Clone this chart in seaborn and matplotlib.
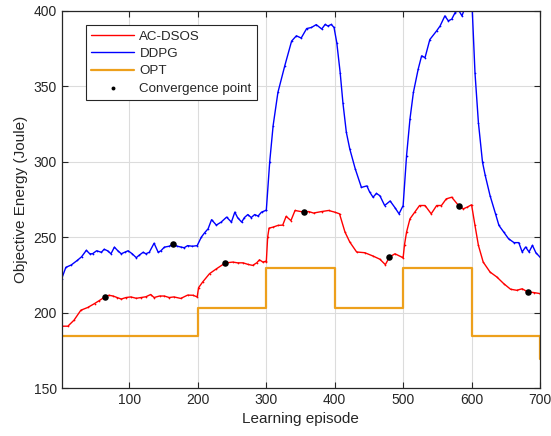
import numpy as np
import pandas as pd
import matplotlib
matplotlib.use("Agg")
import matplotlib.pyplot as plt
import seaborn as sns

# --- DATA ---
red_ep = [1, 10, 19, 29, 39, 49, 56, 64, 70, 76, 82, 88, 95, 102, 110, 117, 124, 131, 136,
          144, 151, 158, 165, 175, 185, 193, 199, 201, 207, 217, 227, 240, 251, 258, 266,
          273, 280, 286, 290, 295, 299, 300, 302, 304, 310, 317, 324, 329, 336, 342, 355,
          362, 369, 381, 391, 400, 407, 415, 422, 432, 444, 456, 466, 474, 480, 488, 498,
          500, 502, 505, 510, 517, 524, 532, 541, 549, 556, 563, 571, 581, 588, 594, 600,
          605, 610, 617, 627, 637, 647, 657, 666, 674, 682, 691, 700]
red_val = [191.0, 191.0, 195.0, 201.6, 203.4, 206.0, 208.0, 210.4, 211.5, 211.0, 210.0,
           209.0, 210.0, 210.4, 209.5, 210.0, 210.5, 212.0, 210.0, 211.0, 211.0, 210.0,
           210.4, 209.4, 211.6, 211.5, 210.4, 216.5, 220.3, 225.8, 229.0, 232.9, 233.5,
           233.0, 233.0, 232.0, 231.3, 233.0, 235.0, 233.5, 234.0, 233.5, 250.0, 256.0,
           256.7, 257.8, 258.0, 263.8, 261.0, 267.7, 266.6, 267.0, 266.0, 267.0, 267.7,
           266.6, 265.5, 253.4, 246.8, 240.2, 239.7, 237.5, 235.4, 231.8, 236.8, 239.0,
           236.8, 236.5, 245.0, 253.4, 262.2, 266.6, 271.0, 271.0, 265.5, 271.0, 271.0,
           275.4, 276.5, 271.0, 268.8, 270.0, 271.5, 257.8, 244.6, 233.5, 226.9, 223.6,
           219.2, 215.5, 214.8, 215.8, 213.7, 213.3, 212.6]

blue_ep = [1, 7, 15, 24, 30, 37, 42, 46, 52, 59, 63, 68, 73, 78, 83, 88, 93, 98, 104, 110,
           114, 120, 124, 129, 136, 142, 146, 151, 158, 164, 170, 176, 180, 185, 192, 199,
           205, 210, 215, 220, 227, 234, 242, 249, 254, 258, 264, 268, 273, 278, 283, 288,
           293, 299, 300, 305, 310, 317, 327, 337, 344, 351, 359, 366, 373, 381, 386, 390,
           395, 399, 403, 408, 412, 417, 422, 430, 439, 447, 451, 456, 461, 466, 473, 481,
           488, 494, 500, 505, 510, 515, 522, 527, 532, 539, 549, 554, 561, 566, 571, 576,
           581, 586, 591, 596, 600, 601, 605, 610, 616, 620, 627, 635, 640, 647, 654, 662,
           669, 674, 679, 684, 689, 694, 700]
blue_val = [222.5, 230.0, 231.6, 234.7, 237.0, 241.3, 239.0, 239.0, 241.0, 240.0, 242.0,
            241.0, 239.0, 243.4, 241.0, 239.0, 240.0, 241.0, 239.0, 236.4, 238.0, 240.0,
            239.0, 240.0, 246.0, 240.0, 241.0, 243.4, 244.0, 245.2, 244.0, 243.4, 243.0,
            244.4, 244.0, 244.4, 250.0, 253.0, 255.6, 261.6, 258.0, 260.0, 263.3, 260.0,
            266.6, 263.0, 260.0, 263.0, 265.0, 263.0, 265.0, 264.0, 266.6, 267.7, 267.7,
            300.0, 324.0, 346.0, 363.6, 380.0, 383.5, 382.0, 388.3, 389.0, 390.9, 388.0,
            391.0, 390.0, 391.0, 389.0, 379.0, 359.0, 339.0, 319.5, 308.5, 295.3, 283.0,
            284.0, 280.0, 276.5, 279.0, 277.5, 271.0, 274.0, 269.6, 265.5, 271.0, 304.0,
            328.4, 346.0, 361.4, 370.2, 369.0, 381.0, 386.8, 390.0, 396.7, 393.4, 394.5,
            398.9, 400.5, 396.7, 403.0, 405.0, 404.0, 401.0, 359.0, 326.0, 299.7, 290.9,
            277.6, 265.5, 257.8, 253.4, 249.0, 246.4, 246.4, 240.2, 243.5, 240.2, 244.6,
            239.7, 236.8]

opt_ep = [1, 200, 300, 400, 500, 600, 700]
opt_val = [184.4, 203.1, 229.8, 203.1, 229.8, 184.4, 169.0]

conv_ep = [64, 164, 240, 355, 480, 581, 682]
conv_val = [210.4, 245.2, 232.9, 266.6, 236.8, 271.0, 213.7]

# --- STYLE ---
sns.set_style("ticks")
plt.rcParams["font.family"] = ["Liberation Sans", "DejaVu Sans"]
plt.rcParams["axes.edgecolor"] = "#262626"
plt.rcParams["xtick.color"] = "#262626"
plt.rcParams["ytick.color"] = "#262626"

fig = plt.figure(figsize=(5.51, 4.36), dpi=100)
ax = fig.add_axes([0.112, 0.110, 0.868, 0.865])

df_red = pd.DataFrame({"ep": red_ep, "val": red_val})
df_blue = pd.DataFrame({"ep": blue_ep, "val": blue_val})
df_opt = pd.DataFrame({"ep": opt_ep, "val": opt_val})
df_conv = pd.DataFrame({"ep": conv_ep, "val": conv_val})

sns.lineplot(data=df_red, x="ep", y="val", ax=ax, color="#FF0000", lw=1.0,
             marker=".", markersize=2.5, markeredgewidth=0, estimator=None,
             label="AC-DSOS")
sns.lineplot(data=df_blue, x="ep", y="val", ax=ax, color="#0000FF", lw=1.0,
             marker=".", markersize=2.5, markeredgewidth=0, estimator=None,
             label="DDPG")
sns.lineplot(data=df_opt, x="ep", y="val", ax=ax, color="#EDA01C", lw=1.6,
             drawstyle="steps-post", estimator=None, label="OPT")
sns.scatterplot(data=df_conv, x="ep", y="val", ax=ax, color="black", s=22,
                edgecolor="black", linewidth=0, zorder=5, label="Convergence point")

ax.set_xlim(1, 700)
ax.set_ylim(150, 400)
ax.set_xticks([100, 200, 300, 400, 500, 600, 700])
ax.set_yticks([150, 200, 250, 300, 350, 400])
ax.grid(True, color="#DCDCDC", lw=0.8)
ax.set_axisbelow(True)
for s in ax.spines.values():
    s.set_visible(True)
    s.set_linewidth(0.9)
ax.tick_params(direction="in", length=4, width=0.8, labelsize=10,
               top=True, right=True)
ax.set_xlabel("Learning episode", fontsize=11, color="#262626")
ax.set_ylabel("Objective Energy (Joule)", fontsize=11, color="#262626")

leg = ax.legend(loc="upper left", bbox_to_anchor=(0.051, 0.963), borderaxespad=0,
                fontsize=9.6, frameon=True, fancybox=False, framealpha=1,
                edgecolor="#262626", borderpad=0.4, labelspacing=0.38,
                handlelength=3.2, handletextpad=0.4, markerscale=0.6)
leg.get_frame().set_linewidth(0.8)

fig.savefig("out.png", dpi=100)
